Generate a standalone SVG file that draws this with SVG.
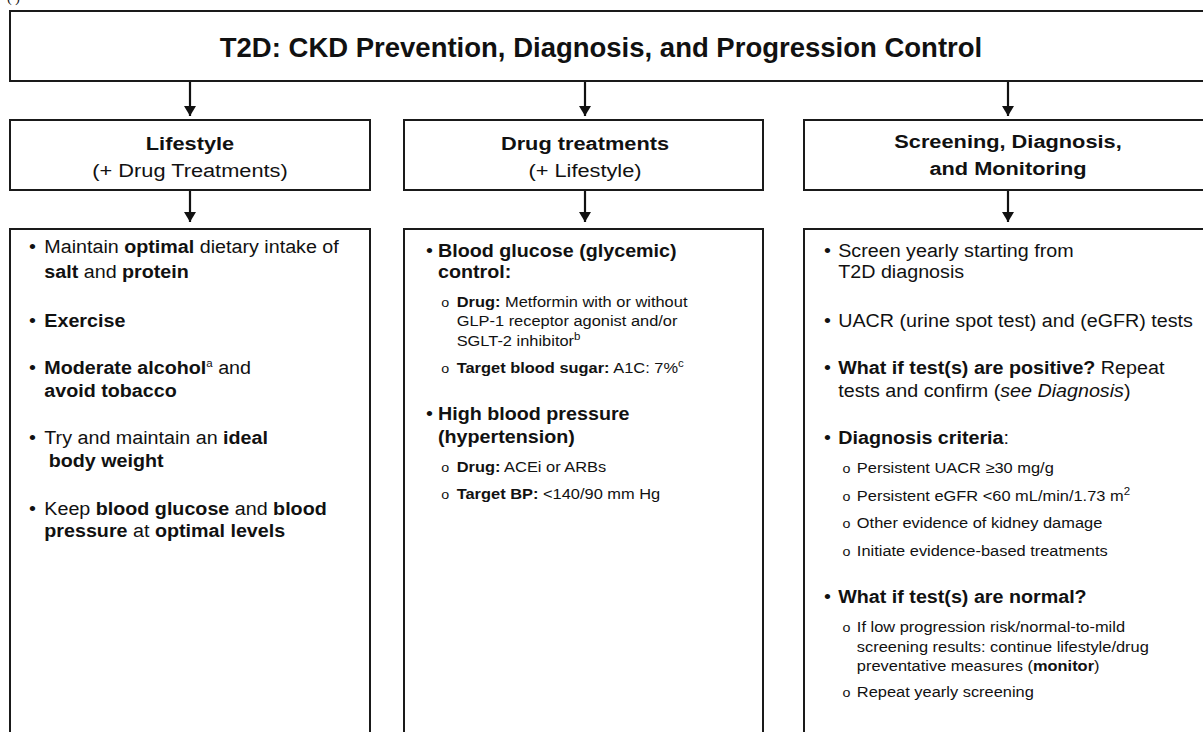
<svg xmlns="http://www.w3.org/2000/svg" width="1203" height="732" viewBox="0 0 1203 732">
<defs>
<marker id="ah" viewBox="0 0 10 12" refX="10" refY="6" markerWidth="10" markerHeight="12" markerUnits="userSpaceOnUse" orient="auto">
<path d="M0,0 L10,6 L0,12 Z" fill="#111"/>
</marker>
<style>
.box{fill:#fff;stroke:#1a1a1a;stroke-width:2}
text{font-family:"Liberation Sans",Arial,sans-serif;fill:#111}
.b{font-weight:bold}
.title{font-size:27.5px;font-weight:bold;text-anchor:middle}
.h{font-size:18px;text-anchor:middle}
.c{font-size:18px}
.s{font-size:15px}
.o{font-size:13px}
.sup{font-size:10.5px}
.arr{stroke:#111;stroke-width:2.2;fill:none}
</style>
</defs>
<rect width="1203" height="732" fill="#fff"/>
<text x="7" y="2" style="font-family:'Liberation Serif',serif;font-size:14px">( )</text>

<g id="title">
<rect class="box" x="10" y="11" width="1205" height="70"/>
<text class="title" x="601" y="57">T2D: CKD Prevention, Diagnosis, and Progression Control</text>
</g>

<g id="connectors">
<line class="arr" x1="190" y1="82" x2="190" y2="116" marker-end="url(#ah)"/>
<line class="arr" x1="585" y1="82" x2="585" y2="116" marker-end="url(#ah)"/>
<line class="arr" x1="1008" y1="82" x2="1008" y2="116" marker-end="url(#ah)"/>
<line class="arr" x1="190" y1="191" x2="190" y2="222" marker-end="url(#ah)"/>
<line class="arr" x1="585" y1="191" x2="585" y2="222" marker-end="url(#ah)"/>
<line class="arr" x1="1008" y1="191" x2="1008" y2="222" marker-end="url(#ah)"/>
</g>

<g id="lifestyle-header">
<rect class="box" x="10" y="120" width="360" height="70"/>
<g transform="translate(190,0) scale(1.21,1) translate(-190,0)">
<text class="h b" x="190" y="150">Lifestyle</text>
<text class="h" x="190" y="177">(+ Drug Treatments)</text>
</g>
</g>

<g id="drug-header">
<rect class="box" x="404" y="120" width="359" height="70"/>
<g transform="translate(585,0) scale(1.21,1) translate(-585,0)">
<text class="h b" x="585" y="150">Drug treatments</text>
<text class="h" x="585" y="177">(+ Lifestyle)</text>
</g>
</g>

<g id="screening-header">
<rect class="box" x="804" y="120" width="410" height="70"/>
<g transform="translate(1008,0) scale(1.21,1) translate(-1008,0)">
<text class="h b" x="1008" y="148">Screening, Diagnosis,</text>
<text class="h b" x="1008" y="175">and Monitoring</text>
</g>
</g>

<g id="lifestyle-content">
<rect class="box" x="10" y="229" width="360" height="520"/>
<g transform="translate(29,0) scale(1.095,1) translate(-29,0)">
<text class="c" x="29" y="253">•</text>
<text class="c" x="43" y="253">Maintain <tspan class="b">optimal</tspan> dietary intake of</text>
<text class="c" x="43" y="278"><tspan class="b">salt</tspan> and <tspan class="b">protein</tspan></text>
<text class="c" x="29" y="327">•</text>
<text class="c b" x="43" y="327">Exercise</text>
<text class="c" x="29" y="374">•</text>
<text class="c" x="43" y="374"><tspan class="b">Moderate alcohol</tspan><tspan class="sup" dy="-7">a</tspan><tspan dy="7"> and</tspan></text>
<text class="c b" x="43" y="397">avoid tobacco</text>
<text class="c" x="29" y="444">•</text>
<text class="c" x="43" y="444">Try and maintain an <tspan class="b">ideal</tspan></text>
<text class="c b" x="47" y="467">body weight</text>
<text class="c" x="29" y="515">•</text>
<text class="c" x="43" y="515">Keep <tspan class="b">blood glucose</tspan> and <tspan class="b">blood</tspan></text>
<text class="c" x="43" y="537"><tspan class="b">pressure</tspan> at <tspan class="b">optimal levels</tspan></text>
</g>
</g>

<g id="drug-content">
<rect class="box" x="404" y="229" width="359" height="520"/>
<g transform="translate(426,0) scale(1.095,1) translate(-426,0)">
<text class="c" x="426" y="257">•</text>
<text class="c b" x="437" y="257">Blood glucose (glycemic)</text>
<text class="c b" x="437" y="278">control:</text>
<text class="o" x="440" y="307">o</text>
<text class="s" x="454" y="307"><tspan class="b">Drug:</tspan> Metformin with or without</text>
<text class="s" x="454" y="326">GLP-1 receptor agonist and/or</text>
<text class="s" x="454" y="346">SGLT-2 inhibitor<tspan class="sup" dy="-6">b</tspan></text>
<text class="o" x="440" y="373">o</text>
<text class="s" x="454" y="373"><tspan class="b">Target blood sugar:</tspan> A1C: 7%<tspan class="sup" dy="-6">c</tspan></text>
<text class="c" x="426" y="420">•</text>
<text class="c b" x="437" y="420">High blood pressure</text>
<text class="c b" x="437" y="443">(hypertension)</text>
<text class="o" x="440" y="472">o</text>
<text class="s" x="454" y="472"><tspan class="b">Drug:</tspan> ACEi or ARBs</text>
<text class="o" x="440" y="499">o</text>
<text class="s" x="454" y="499"><tspan class="b">Target BP:</tspan> &lt;140/90 mm Hg</text>
</g>
</g>

<g id="screening-content">
<rect class="box" x="804" y="229" width="410" height="520"/>
<g transform="translate(824,0) scale(1.095,1) translate(-824,0)">
<text class="c" x="824" y="257">•</text>
<text class="c" x="837" y="257">Screen yearly starting from</text>
<text class="c" x="837" y="278">T2D diagnosis</text>
<text class="c" x="824" y="327">•</text>
<text class="c" x="837" y="327">UACR (urine spot test) and (eGFR) tests</text>
<text class="c" x="824" y="374">•</text>
<text class="c" x="837" y="374"><tspan class="b">What if test(s) are positive?</tspan> Repeat</text>
<text class="c" x="837" y="397">tests and confirm (<tspan font-style="italic">see Diagnosis</tspan>)</text>
<text class="c" x="824" y="444">•</text>
<text class="c" x="837" y="444"><tspan class="b">Diagnosis criteria</tspan>:</text>
<text class="o" x="841" y="473">o</text>
<text class="s" x="854" y="473">Persistent UACR ≥30 mg/g</text>
<text class="o" x="841" y="501">o</text>
<text class="s" x="854" y="501">Persistent eGFR &lt;60 mL/min/1.73 m<tspan class="sup" dy="-6">2</tspan></text>
<text class="o" x="841" y="528">o</text>
<text class="s" x="854" y="528">Other evidence of kidney damage</text>
<text class="o" x="841" y="556">o</text>
<text class="s" x="854" y="556">Initiate evidence-based treatments</text>
<text class="c" x="824" y="603">•</text>
<text class="c b" x="837" y="603">What if test(s) are normal?</text>
<text class="o" x="841" y="632">o</text>
<text class="s" x="854" y="632">If low progression risk/normal-to-mild</text>
<text class="s" x="854" y="652">screening results: continue lifestyle/drug</text>
<text class="s" x="854" y="671">preventative measures (<tspan class="b">monitor</tspan>)</text>
<text class="o" x="841" y="697">o</text>
<text class="s" x="854" y="697">Repeat yearly screening</text>
</g>
</g>
</svg>
